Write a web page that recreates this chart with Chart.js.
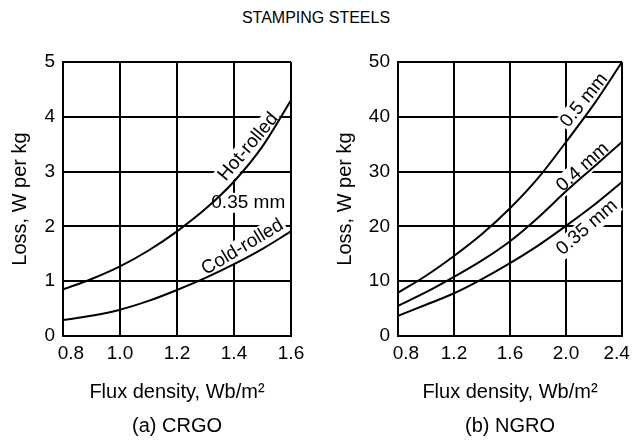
<!DOCTYPE html>
<html>
<head>
<meta charset="utf-8">
<script src="https://cdn.jsdelivr.net/npm/chart.js@4"></script>
<style>
body { margin: 0; background: #fff; }
#wrap { position: relative; width: 632px; height: 440px; }
#title { position: absolute; left: 0; top: 9px; width: 632px; text-align: center;
         font: 16px "Liberation Sans", Arial, sans-serif; color: #000; }
canvas { position: absolute; top: 0; }
</style>
</head>
<body>
<div id="wrap">
  <div id="title">STAMPING STEELS</div>
  <canvas id="crgo" width="316" height="440" style="left:0"></canvas>
  <canvas id="ngro" width="316" height="440" style="left:316px"></canvas>
</div>
<script>
// (a) CRGO
var fluxA = [0.8, 0.9, 1.0, 1.1, 1.2, 1.3, 1.4, 1.5, 1.6];
var hotRolled = [0.85, 1.04, 1.27, 1.56, 1.91, 2.32, 2.82, 3.46, 4.30];
var coldRolled = [0.29, 0.37, 0.48, 0.64, 0.84, 1.06, 1.31, 1.59, 1.91];
var xTicksA = [0.8, 1.0, 1.2, 1.4, 1.6];
var yTicksA = [0, 1, 2, 3, 4, 5];

// (b) NGRO
var fluxB = [0.8, 1.0, 1.2, 1.4, 1.6, 1.8, 2.0, 2.2, 2.4];
var loss050 = [7.9, 11.0, 14.6, 18.6, 23.3, 28.8, 35.4, 42.3, 50.0];
var loss040 = [5.5, 8.0, 10.8, 13.8, 17.3, 21.6, 26.4, 30.9, 35.4];
var loss035 = [3.7, 5.7, 7.8, 10.4, 13.3, 16.5, 20.1, 23.9, 28.1];
var xTicksB = [0.8, 1.2, 1.6, 2.0, 2.4];
var yTicksB = [0, 10, 20, 30, 40, 50];

var FONT = '"Liberation Sans", Arial, sans-serif';
Chart.defaults.font.family = FONT;
Chart.defaults.color = '#000';

function points(xs, ys) {
  return xs.map(function (x, i) { return { x: x, y: ys[i] }; });
}

function line(xs, ys) {
  return {
    data: points(xs, ys),
    borderColor: '#000',
    borderWidth: 2,
    pointRadius: 0,
    fill: false,
    cubicInterpolationMode: 'monotone'
  };
}

// text written along the curves, with a white patch that breaks the grid
var curveLabels = {
  id: 'curveLabels',
  beforeDatasetsDraw: function (chart, args, opts) {
    var ctx = chart.ctx, sx = chart.scales.x, sy = chart.scales.y;
    ctx.save();
    ctx.font = '19px ' + FONT;
    ctx.textAlign = 'center';
    ctx.textBaseline = 'middle';
    opts.items.forEach(function (it) {
      var px = sx.getPixelForValue(it.x), py = sy.getPixelForValue(it.y);
      ctx.save();
      ctx.translate(px, py);
      ctx.rotate(it.angle * Math.PI / 180);
      var w = ctx.measureText(it.text).width;
      ctx.fillStyle = '#fff';
      ctx.fillRect(-w / 2 - 2, -10, w + 4, 20);
      ctx.fillStyle = '#000';
      ctx.fillText(it.text, 0, 0);
      ctx.restore();
    });
    ctx.restore();
  }
};

function makeChart(id, datasets, xTicks, yTicks, caption, axisWidth, padRight, titlePad, lastPad, labels) {
  var gridOpts = { color: '#000', lineWidth: 2, drawTicks: false };
  return new Chart(document.getElementById(id), {
    type: 'line',
    data: { datasets: datasets },
    plugins: [curveLabels],
    options: {
      responsive: false,
      animation: false,
      devicePixelRatio: 1,
      layout: { padding: { left: 0, top: 62, right: padRight, bottom: 0 } },
      plugins: {
        legend: { display: false },
        tooltip: { enabled: false },
        curveLabels: { items: labels }
      },
      scales: {
        x: {
          type: 'linear',
          min: xTicks[0],
          max: xTicks[xTicks.length - 1],
          afterBuildTicks: function (s) { s.ticks = xTicks.map(function (v) { return { value: v }; }); },
          afterFit: function (s) { s.height = 104; s.paddingLeft = 0; s.paddingRight = 0; },
          ticks: {
            autoSkip: false, maxRotation: 0, padding: 6,
            font: { size: 19 },
            // end labels sit a little inside the frame, as in the print
            callback: function (v, i, t) {
              var s = v.toFixed(1);
              if (i === 0) s = '   ' + s;
              if (i === t.length - 1) s = s + lastPad;
              return s;
            }
          },
          grid: gridOpts,
          border: { color: '#000', width: 2 },
          title: {
            display: true,
            text: ['Flux density, Wb/m\u00b2', caption],
            font: { size: 20, lineHeight: '34px' },
            padding: { top: 0, bottom: -3 }
          }
        },
        y: {
          type: 'linear',
          min: yTicks[0],
          max: yTicks[yTicks.length - 1],
          afterBuildTicks: function (s) { s.ticks = yTicks.map(function (v) { return { value: v }; }); },
          afterFit: function (s) { s.width = axisWidth; s.paddingTop = 0; s.paddingBottom = 0; },
          ticks: { padding: 8, font: { size: 19 } },
          grid: gridOpts,
          border: { color: '#000', width: 2 },
          title: {
            display: true,
            text: 'Loss, W per kg',
            font: { size: 20 },
            padding: { top: titlePad, bottom: 0 }
          }
        }
      }
    }
  });
}

makeChart('crgo', [line(fluxA, hotRolled), line(fluxA, coldRolled)],
  xTicksA, yTicksA, '(a) CRGO', 63, 25, 8, '', [
    { text: 'Hot-rolled', x: 1.45, y: 3.45, angle: -50 },
    { text: '0.35 mm', x: 1.45, y: 2.43, angle: 0 },
    { text: 'Cold-rolled', x: 1.43, y: 1.62, angle: -31 }
  ]);

makeChart('ngro', [line(fluxB, loss050), line(fluxB, loss040), line(fluxB, loss035)],
  xTicksB, yTicksB, '(b) NGRO', 82, 10, 17, '  ', [
    { text: '0.5 mm', x: 2.13, y: 43.0, angle: -51 },
    { text: '0.4 mm', x: 2.12, y: 30.8, angle: -42 },
    { text: '0.35 mm', x: 2.15, y: 19.8, angle: -41 }
  ]);
</script>
</body>
</html>
